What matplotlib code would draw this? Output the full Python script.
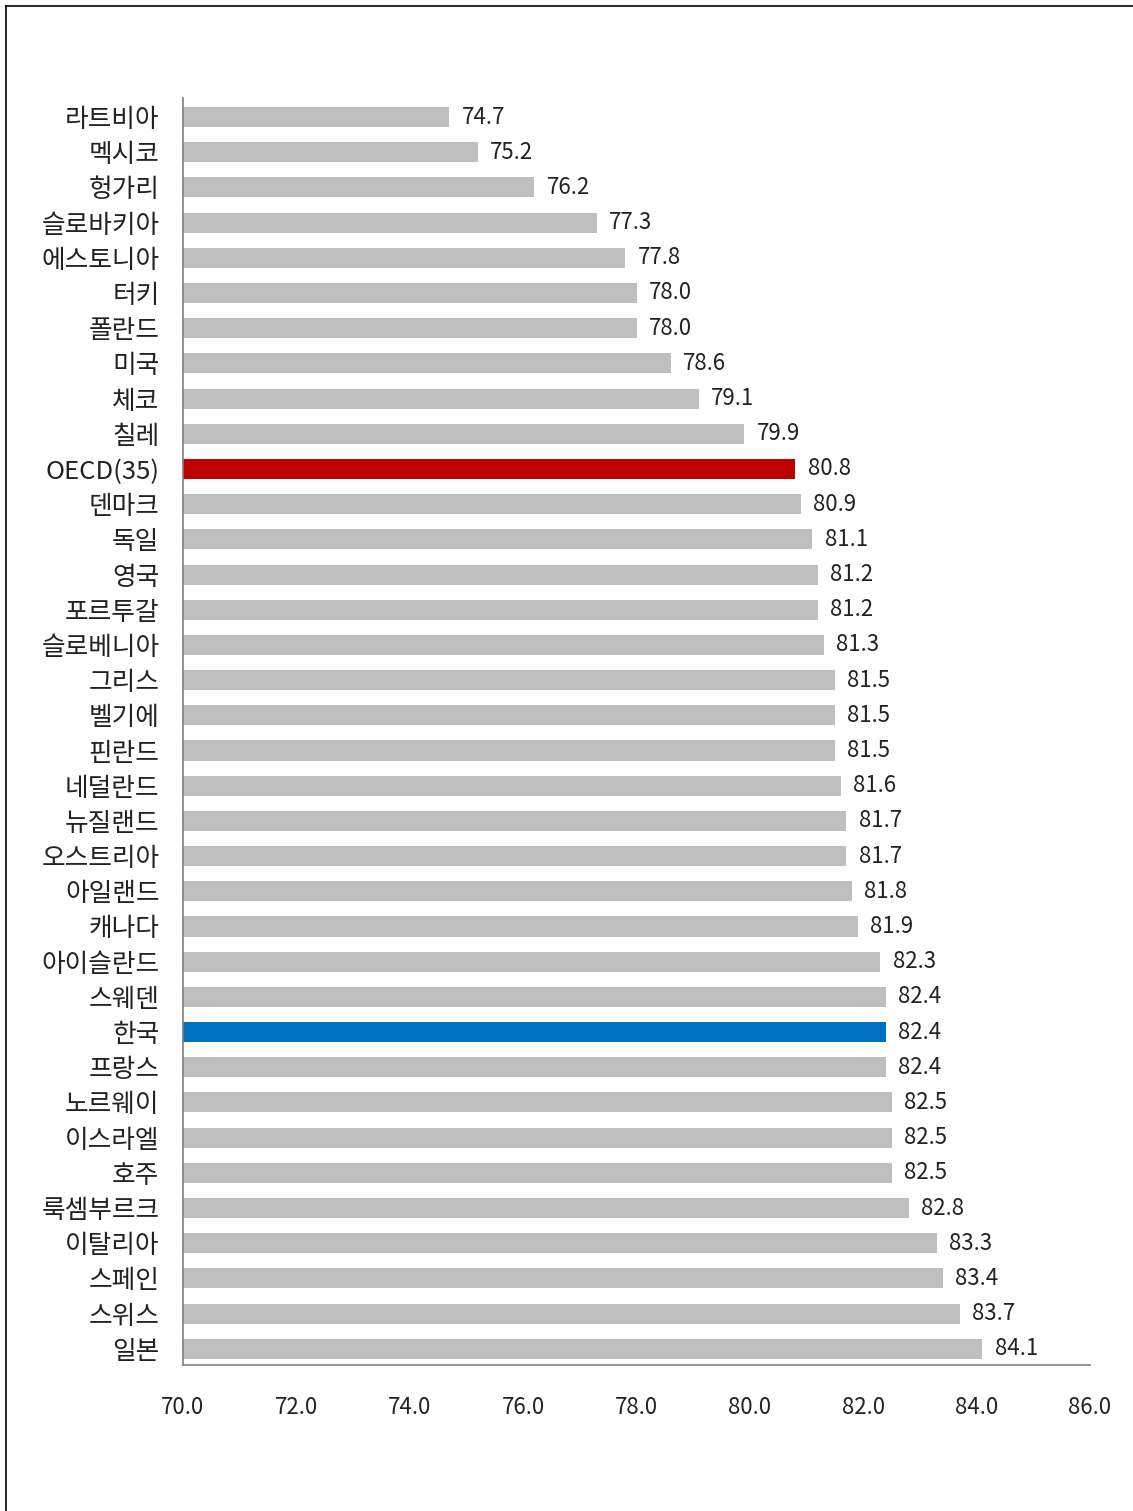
import matplotlib
matplotlib.use("Agg")
import matplotlib.pyplot as plt
from matplotlib.lines import Line2D

plt.rcParams['font.family'] = ['Noto Sans CJK KR', 'DejaVu Sans']

countries = ["라트비아", "멕시코", "헝가리", "슬로바키아", "에스토니아", "터키", "폴란드", "미국", "체코", "칠레",
             "OECD(35)", "덴마크", "독일", "영국", "포르투갈", "슬로베니아", "그리스", "벨기에", "핀란드", "네덜란드",
             "뉴질랜드", "오스트리아", "아일랜드", "캐나다", "아이슬란드", "스웨덴", "한국", "프랑스", "노르웨이", "이스라엘",
             "호주", "룩셈부르크", "이탈리아", "스페인", "스위스", "일본"]
values = [74.7, 75.2, 76.2, 77.3, 77.8, 78.0, 78.0, 78.6, 79.1, 79.9,
          80.8, 80.9, 81.1, 81.2, 81.2, 81.3, 81.5, 81.5, 81.5, 81.6,
          81.7, 81.7, 81.8, 81.9, 82.3, 82.4, 82.4, 82.4, 82.5, 82.5,
          82.5, 82.8, 83.3, 83.4, 83.7, 84.1]
xticks = [70, 72, 74, 76, 78, 80, 82, 84, 86]

colors = []
for c in countries:
    if c == "OECD(35)":
        colors.append("#C00000")
    elif c == "한국":
        colors.append("#0070C0")
    else:
        colors.append("#BFBFBF")

fig = plt.figure(figsize=(11.33, 15.11), dpi=100)
ax = fig.add_axes([183/1133, 1 - 1365/1511, (1090-183)/1133, (1365-98)/1511])

pos = list(range(len(countries)))
base = 70
ax.barh(pos, [v - base for v in values], left=base, height=0.57, color=colors)
for p, v in zip(pos, values):
    ax.text(v + 0.22, p, f"{v:.1f}", va="center", ha="left", fontsize=16, color="#222222",
            family=['Noto Sans CJK KR', 'DejaVu Sans'])

ax.set_xlim(70, 86)
ax.set_ylim(35.46, -0.54)
ax.set_xticks(xticks)
ax.set_xticklabels([f"{t:.1f}" for t in xticks], fontsize=16, color="#222222")
ax.set_yticks(pos)
ax.set_yticklabels(countries, fontsize=18.5, color="#222222")
ax.tick_params(axis='x', length=0, pad=22)
ax.tick_params(axis='y', length=0, pad=17)
for s in ["top", "right"]:
    ax.spines[s].set_visible(False)
ax.spines["left"].set_color("#7f7f7f")
ax.spines["bottom"].set_color("#7f7f7f")
ax.spines["left"].set_linewidth(1.2)
ax.spines["bottom"].set_linewidth(1.2)

# outer frame (top and left edges)
fig.add_artist(Line2D([6/1133, 1.0], [1 - 6/1511, 1 - 6/1511], transform=fig.transFigure, color="black", lw=1.2))
fig.add_artist(Line2D([6/1133, 6/1133], [0, 1 - 6/1511], transform=fig.transFigure, color="black", lw=1.2))

fig.savefig("out.png", dpi=100)
